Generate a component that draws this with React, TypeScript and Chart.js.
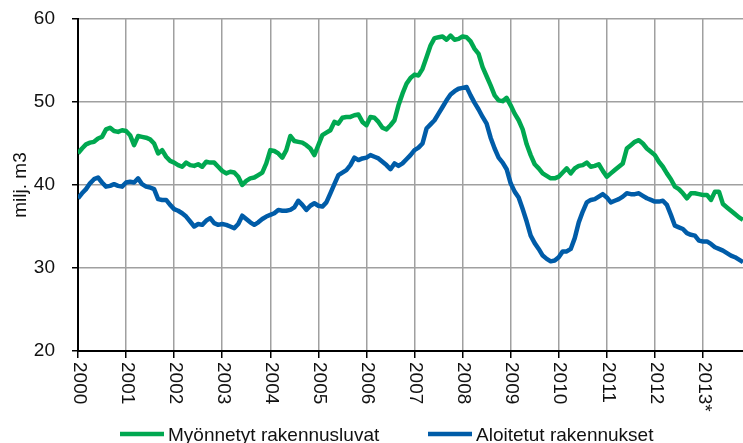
import React, { useEffect, useRef } from "react";
import { Chart, registerables } from "chart.js";

Chart.register(...registerables);

// Year tick labels (one per 12 months, starting Jan 2000)
const yearLabels = [
  "2000", "2001", "2002", "2003", "2004", "2005", "2006",
  "2007", "2008", "2009", "2010", "2011", "2012", "2013*",
];

const seriesNames = ["Myönnetyt rakennusluvat", "Aloitetut rakennukset"];
const yTitle = "milj. m3";
const yMin = 20;
const yMax = 60;
const yStep = 10;
const monthsPerYear = 12;

// Monthly moving totals, milj. m3 (Jan 2000 ... Nov 2013)
const granted = [
  43.8, 44.4, 44.9, 45.1, 45.2, 45.6, 45.8, 46.7, 46.9, 46.5, 46.4, 46.6,
  46.5, 46.0, 44.8, 45.9, 45.8, 45.7, 45.5, 45.0, 43.8, 44.2, 43.4, 42.9,
  42.7, 42.4, 42.2, 42.7, 42.4, 42.3, 42.5, 42.2, 42.8, 42.7, 42.7, 42.2,
  41.7, 41.4, 41.6, 41.5, 41.0, 40.0, 40.5, 40.8, 40.9, 41.2, 41.5, 42.6,
  44.2, 44.1, 43.8, 43.3, 44.2, 45.9, 45.3, 45.2, 45.1, 44.8, 44.4, 43.6,
  44.8, 46.0, 46.3, 46.6, 47.6, 47.4, 48.1, 48.2, 48.2, 48.4, 48.5, 47.6,
  47.2, 48.2, 48.1, 47.6, 46.9, 46.7, 47.2, 47.8, 49.6, 51.0, 52.2, 52.9,
  53.3, 53.2, 54.0, 55.4, 56.8, 57.7, 57.8, 57.9, 57.5, 58.0, 57.5, 57.6,
  57.9, 57.8, 57.3, 56.4, 55.8, 54.2, 53.1, 52.0, 50.8, 50.2, 50.1, 50.5,
  49.6, 48.6, 47.8, 46.7, 44.9, 43.6, 42.5, 42.0, 41.4, 41.1, 40.8, 40.8,
  41.0, 41.5, 42.0, 41.4, 42.0, 42.3, 42.4, 42.7, 42.2, 42.3, 42.5, 41.7,
  41.0, 41.4, 41.8, 42.2, 42.6, 44.4, 44.8, 45.2, 45.4, 45.0, 44.4, 44.0,
  43.6, 42.8, 42.2, 41.4, 40.7, 39.8, 39.5, 39.0, 38.4, 39.0, 39.0, 38.9,
  38.8, 38.8, 38.2, 39.2, 39.2, 37.7, 37.3, 36.9, 36.5, 36.1, 35.8,
];

const started = [
  38.4, 39.0, 39.5, 40.2, 40.7, 40.9, 40.3, 39.8, 39.9, 40.1, 39.9, 39.8,
  40.3, 40.4, 40.3, 40.8, 40.1, 39.8, 39.7, 39.5, 38.3, 38.2, 38.2, 37.6,
  37.1, 36.9, 36.6, 36.2, 35.6, 35.0, 35.3, 35.2, 35.7, 36.0, 35.4, 35.2,
  35.3, 35.2, 35.0, 34.8, 35.3, 36.3, 35.9, 35.5, 35.2, 35.5, 35.9, 36.2,
  36.4, 36.6, 37.0, 36.9, 36.9, 37.0, 37.3, 38.1, 37.6, 37.0, 37.5, 37.8,
  37.5, 37.4, 37.9, 39.0, 40.1, 41.2, 41.5, 41.8, 42.4, 43.3, 43.0, 43.2,
  43.3, 43.6, 43.4, 43.2, 42.8, 42.4, 41.9, 42.6, 42.3, 42.6, 43.1, 43.6,
  44.2, 44.5, 45.0, 46.8, 47.3, 47.8, 48.6, 49.4, 50.2, 50.9, 51.3, 51.6,
  51.7, 51.8, 50.8, 49.9, 49.1, 48.2, 47.4, 45.7, 44.4, 43.3, 42.7, 41.9,
  40.2, 39.2, 38.5, 37.1, 35.6, 33.9, 33.0, 32.3, 31.5, 31.1, 30.8, 30.9,
  31.3, 32.0, 32.0, 32.3, 33.6, 35.5, 36.8, 37.9, 38.2, 38.3, 38.6, 38.9,
  38.5, 37.9, 38.1, 38.3, 38.6, 39.0, 38.9, 38.9, 39.0, 38.7, 38.4, 38.2,
  38.0, 38.0, 38.1, 37.6, 36.4, 35.1, 34.9, 34.7, 34.2, 34.0, 33.9, 33.3,
  33.2, 33.2, 32.9, 32.5, 32.3, 32.1, 31.8, 31.5, 31.3, 31.0, 30.7,
];

const GREEN = "rgb(0,168,80)";
const BLUE = "rgb(0,92,168)";
const GRID = "#a0a0a0";
const FONT = '"Liberation Sans", Arial, sans-serif';

const textPlugin = {
  id: "customText",
  afterDraw(chart: any) {
    const { ctx, chartArea, scales } = chart;
    const xs = scales.x;
    ctx.save();
    ctx.fillStyle = "#111";
    ctx.font = `19px ${FONT}`;
    // rotated year labels (reading top to bottom)
    yearLabels.forEach((lab, k) => {
      const px = xs.getPixelForValue(k * monthsPerYear);
      ctx.save();
      ctx.translate(px + 1, chartArea.bottom + 11);
      ctx.rotate(Math.PI / 2);
      ctx.textAlign = "left";
      ctx.textBaseline = "middle";
      ctx.fillText(lab, 0, 0);
      ctx.restore();
    });
    // y axis title
    ctx.save();
    ctx.translate(26, (chartArea.top + chartArea.bottom) / 2);
    ctx.rotate(-Math.PI / 2);
    ctx.textAlign = "center";
    ctx.textBaseline = "alphabetic";
    ctx.font = `19px ${FONT}`;
    ctx.fillText(yTitle, 0, 0);
    ctx.restore();
    // legend
    const items = [
      { label: seriesNames[0], color: GREEN, x: 120 },
      { label: seriesNames[1], color: BLUE, x: 428 },
    ];
    items.forEach((it) => {
      ctx.strokeStyle = it.color;
      ctx.lineWidth = 4.5;
      ctx.beginPath();
      ctx.moveTo(it.x, 434);
      ctx.lineTo(it.x + 44, 434);
      ctx.stroke();
      ctx.textAlign = "left";
      ctx.textBaseline = "alphabetic";
      ctx.fillText(it.label, it.x + 48, 441);
    });
    ctx.restore();
  },
};

export default function App() {
  const ref = useRef<HTMLCanvasElement>(null);
  useEffect(() => {
    document.body.style.margin = "0";
    const canvas = ref.current;
    if (!canvas) return;
    const chart = new Chart(canvas, {
      type: "line",
      data: {
        datasets: [
          {
            label: seriesNames[0],
            data: granted.map((v, i) => ({ x: i, y: v })),
            borderColor: GREEN,
            backgroundColor: GREEN,
            borderWidth: 4.5,
            pointRadius: 0,
            tension: 0,
            borderJoinStyle: "round",
          },
          {
            label: seriesNames[1],
            data: started.map((v, i) => ({ x: i, y: v })),
            borderColor: BLUE,
            backgroundColor: BLUE,
            borderWidth: 4.5,
            pointRadius: 0,
            tension: 0,
            borderJoinStyle: "round",
          },
        ],
      },
      options: {
        animation: false,
        responsive: false,
        layout: { padding: { top: 19, left: 0, right: 0, bottom: 0 } },
        plugins: {
          legend: { display: false },
          tooltip: { enabled: false },
        },
        scales: {
          x: {
            type: "linear",
            min: 0,
            max: granted.length - 1,
            afterBuildTicks: (s: any) => {
              s.ticks = yearLabels.map((_, k) => ({ value: k * monthsPerYear }));
            },
            afterFit: (s: any) => {
              s.height = 92;
              s.paddingLeft = 0;
              s.paddingRight = 0;
            },
            ticks: { display: false },
            grid: { color: GRID, lineWidth: 1.5, tickLength: 7, tickColor: "#000" },
            border: { color: "#000", width: 2 },
          },
          y: {
            min: yMin,
            max: yMax,
            afterFit: (s: any) => {
              s.width = 78;
              s.paddingTop = 0;
              s.paddingBottom = 0;
            },
            ticks: {
              stepSize: yStep,
              color: "#111",
              padding: 17,
              font: { family: FONT, size: 19 },
            },
            grid: { color: GRID, lineWidth: 1.5, tickLength: 6, tickColor: "#000" },
            border: { color: "#000", width: 2 },
          },
        },
      },
      plugins: [textPlugin],
    } as any);
    return () => chart.destroy();
  }, []);
  return (
    <div style={{ width: 743, height: 443 }}>
      <canvas ref={ref} width={743} height={443} style={{ display: "block" }} />
    </div>
  );
}
